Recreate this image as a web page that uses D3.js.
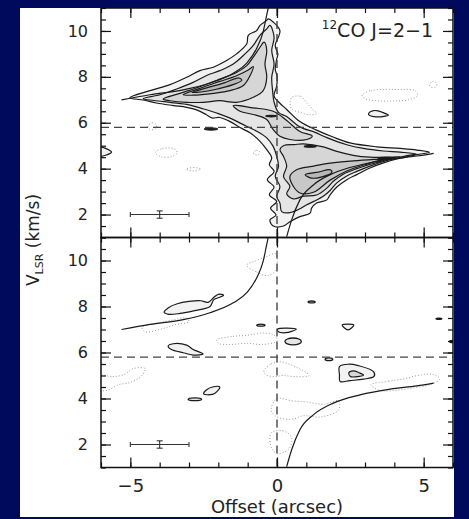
<!DOCTYPE html>
<html>
<head>
<meta charset="utf-8">
<script src="https://cdn.jsdelivr.net/npm/d3@7"></script>
<style>
  html, body { margin: 0; padding: 0; background: #000a5c; }
  svg { display: block; }
</style>
</head>
<body>
<script>
// ---------- axis ticks ----------
const offsetMajorTicks = [-5, 0, 5];
const offsetMinorTicks = [-6, -5, -4, -3, -2, -1, 0, 1, 2, 3, 4, 5, 6];
const velocityMajorTicks = [2, 4, 6, 8, 10];
const velocityMinorTicks = [1, 1.5, 2, 2.5, 3, 3.5, 4, 4.5, 5, 5.5, 6, 6.5, 7, 7.5, 8, 8.5, 9, 9.5, 10, 10.5, 11];

// systemic velocity and source position (dashed guides)
const systemicVelocity = 5.8;
const sourceOffset = 0;

// velocity resolution / beam bar: offset range and velocity half-width
const resolutionBar = { x0: -5, x1: -3, xc: -4, v: 2, dv: 0.16 };

// Keplerian rotation curves [offset, velocity]
const keplerBlue = [[0.33, 1.04], [0.50, 1.77], [0.78, 2.64], [1.24, 3.29], [1.92, 3.80], [2.83, 4.16], [3.86, 4.41], [4.77, 4.55], [5.34, 4.67]];
const keplerRed = [[-5.30, 7.00], [-4.33, 7.22], [-3.20, 7.43], [-2.29, 7.73], [-1.49, 8.16], [-1.03, 8.60], [-0.69, 9.25], [-0.47, 9.97], [-0.35, 10.70], [-0.30, 11.0]];

// ---------- 12CO J=2-1 channel contours (top panel) ----------
const coLevel1 = [[-5.02, 7.09], [-4.33, 7.40], [-3.65, 7.66], [-3.08, 7.98], [-2.63, 8.27], [-2.17, 8.42], [-1.72, 8.71], [-1.38, 9.00], [-1.03, 9.44], [-0.98, 9.81], [-0.69, 10.02], [-0.58, 10.24], [-0.35, 10.46], [-0.30, 10.53], [-0.13, 10.39], [0.10, 10.01], [-0.06, 9.35], [0.03, 8.99], [-0.01, 8.77], [-0.06, 8.33], [0.00, 8.04], [-0.01, 7.60], [-0.10, 7.16], [0.10, 6.85], [0.33, 6.58], [0.78, 6.05], [1.35, 5.68], [1.91, 5.38], [2.49, 5.12], [3.40, 4.95], [4.20, 4.88], [4.77, 4.81], [5.20, 4.71], [4.77, 4.61], [4.43, 4.51], [4.09, 4.42], [3.63, 4.25], [3.17, 4.03], [2.72, 3.74], [2.38, 3.52], [2.04, 3.20], [1.81, 2.86], [1.70, 2.64], [1.35, 2.50], [1.18, 2.28], [1.13, 2.06], [0.78, 1.91], [0.44, 1.69], [0.22, 1.50], [-0.13, 1.50], [-0.24, 1.77], [-0.03, 1.98], [-0.22, 2.28], [-0.01, 2.57], [-0.26, 2.86], [-0.10, 3.20], [-0.33, 3.52], [-0.10, 3.88], [-0.26, 4.17], [-0.18, 4.47], [-0.35, 4.83], [-0.58, 5.19], [-0.92, 5.56], [-1.26, 5.79], [-1.60, 6.05], [-1.95, 6.23], [-2.22, 6.21], [-2.42, 6.36], [-2.74, 6.56], [-3.08, 6.67], [-3.54, 6.75], [-4.11, 6.86], [-4.56, 6.99]];
const coLevel2 = [[-4.56, 7.05], [-3.99, 7.22], [-3.42, 7.47], [-2.86, 7.76], [-2.40, 8.06], [-1.95, 8.27], [-1.49, 8.56], [-1.09, 9.00], [-0.81, 9.37], [-0.58, 9.81], [-0.35, 10.09], [-0.24, 10.24], [-0.10, 9.73], [-0.18, 9.15], [-0.10, 8.56], [-0.18, 7.98], [-0.15, 7.40], [-0.10, 6.90], [0.05, 6.45], [0.33, 6.27], [0.78, 5.82], [1.30, 5.58], [1.70, 5.35], [2.38, 5.04], [2.95, 4.88], [3.63, 4.77], [4.20, 4.72], [4.75, 4.64], [4.43, 4.57], [4.09, 4.46], [3.63, 4.31], [3.17, 4.11], [2.72, 3.88], [2.38, 3.68], [2.04, 3.38], [1.81, 3.05], [1.60, 2.82], [1.30, 2.60], [1.00, 2.42], [0.78, 2.25], [0.44, 2.08], [0.16, 2.13], [0.10, 2.50], [-0.01, 2.79], [0.10, 3.22], [-0.06, 3.66], [0.05, 4.10], [-0.01, 4.54], [-0.13, 4.97], [-0.35, 5.34], [-0.69, 5.63], [-1.20, 5.95], [-1.60, 6.20], [-2.00, 6.40], [-2.50, 6.60], [-3.00, 6.78], [-3.60, 6.88], [-4.20, 6.97]];
const coLevel3West = [[-3.88, 7.03], [-3.31, 7.28], [-2.63, 7.57], [-1.95, 7.90], [-1.38, 8.19], [-1.03, 8.49], [-0.81, 8.86], [-0.58, 9.29], [-0.44, 9.51], [-0.35, 9.15], [-0.41, 8.56], [-0.35, 7.98], [-0.47, 7.40], [-0.81, 7.11], [-1.38, 6.89], [-1.95, 6.96], [-2.52, 6.89], [-3.08, 6.89], [-3.65, 6.96]];
const coLevel3Center = [[-1.49, 6.75], [-0.81, 6.65], [-0.13, 6.50], [0.33, 6.10], [0.78, 5.62], [1.20, 5.42], [1.01, 5.27], [0.44, 5.27], [0.10, 5.41], [-0.13, 5.70], [-0.35, 6.14], [-0.81, 6.36], [-1.26, 6.50]];
const coLevel3East = [[0.10, 4.83], [0.22, 5.00], [0.60, 5.05], [0.90, 5.08], [1.58, 4.95], [2.04, 4.75], [2.60, 4.58], [3.17, 4.50], [3.86, 4.50], [4.20, 4.52], [3.95, 4.47], [3.40, 4.27], [2.72, 4.00], [2.26, 3.76], [1.92, 3.45], [1.70, 3.15], [1.35, 2.85], [0.90, 2.80], [0.56, 2.68], [0.33, 2.90], [0.44, 3.22], [0.22, 3.66], [0.33, 4.10], [0.22, 4.54]];
const coLevel4West = [[-3.20, 7.22], [-2.63, 7.50], [-1.95, 7.80], [-1.38, 8.05], [-0.98, 8.30], [-0.81, 8.45], [-0.92, 8.05], [-1.15, 7.62], [-1.60, 7.40], [-2.17, 7.28], [-2.86, 7.20]];
const coLevel4East = [[0.44, 3.66], [0.67, 3.95], [1.20, 4.10], [1.58, 4.20], [2.49, 4.33], [3.29, 4.40], [3.80, 4.44], [3.50, 4.36], [3.06, 4.20], [2.38, 3.90], [1.81, 3.50], [1.24, 2.97], [0.78, 2.94], [0.56, 3.22]];
const coLevel5West = [[-2.90, 7.32], [-2.40, 7.52], [-1.80, 7.74], [-1.30, 7.95], [-1.20, 7.85], [-1.50, 7.66], [-2.10, 7.45], [-2.60, 7.34]];
const coLevel5East = [[0.96, 3.74], [1.40, 3.85], [1.81, 3.95], [1.87, 3.84], [1.47, 3.62], [1.13, 3.60]];
const coIslands = [
  [[3.12, 6.40], [3.25, 6.52], [3.45, 6.52], [3.60, 6.45], [3.80, 6.33], [3.60, 6.27], [3.30, 6.27], [3.15, 6.32]],
  [[-6.10, 4.95], [-5.64, 4.72], [-6.10, 4.55]]
];
// compact peaks, each {x: offset, v: velocity, rx, ry}
const coPeaks = [
  { x: -0.20, v: 6.29, rx: 0.18, ry: 0.035 },
  { x: 1.13, v: 4.97, rx: 0.20, ry: 0.035 },
  { x: 3.70, v: 4.45, rx: 0.25, ry: 0.035 },
  { x: -2.25, v: 5.73, rx: 0.22, ry: 0.045 }
];
// negative contours
const coNegative = [
  [[0.50, 7.10], [0.80, 7.15], [1.00, 6.90], [1.20, 6.60], [1.35, 6.40], [1.10, 6.35], [0.80, 6.45], [0.50, 6.60], [0.45, 6.85]],
  [[2.90, 7.20], [3.20, 7.40], [3.70, 7.45], [4.20, 7.45], [4.70, 7.40], [4.80, 7.20], [4.50, 7.00], [4.00, 6.95], [3.50, 6.95], [3.00, 7.05]],
  [[5.20, 7.65], [5.30, 7.80], [5.45, 7.72], [5.40, 7.56], [5.25, 7.55]],
  [[-4.40, 5.85], [-4.25, 6.00], [-4.10, 5.90], [-4.15, 5.72], [-4.35, 5.72]],
  [[-4.15, 4.70], [-3.90, 4.88], [-3.50, 4.86], [-3.40, 4.70], [-3.60, 4.52], [-3.95, 4.52]],
  [[-0.80, 4.70], [-0.70, 4.80], [-0.58, 4.72], [-0.65, 4.60], [-0.77, 4.62]],
  [[-3.10, 3.97], [-2.85, 4.05], [-2.60, 3.98], [-2.85, 3.90]]
];

// ---------- residual contours (bottom panel) ----------
const resPositive = [
  [[-3.85, 7.75], [-3.70, 7.95], [-3.40, 8.12], [-3.00, 8.22], [-2.60, 8.25], [-2.35, 8.18], [-2.15, 8.40], [-2.00, 8.53], [-1.82, 8.49], [-1.95, 8.40], [-2.15, 8.30], [-2.28, 8.00], [-2.50, 7.90], [-2.80, 7.82], [-3.30, 7.70], [-3.70, 7.66]],
  [[-3.71, 6.28], [-3.54, 6.38], [-3.08, 6.32], [-2.86, 6.13], [-2.52, 5.94], [-2.86, 5.89], [-3.20, 5.99], [-3.60, 6.13]],
  [[2.22, 7.20], [2.62, 7.20], [2.42, 6.98]],
  [[0.02, 7.02], [0.66, 7.02], [0.50, 6.92], [0.30, 6.86], [0.05, 6.90]],
  [[2.13, 5.39], [2.43, 5.49], [2.77, 5.43], [3.29, 5.17], [3.31, 4.96], [2.95, 4.84], [2.49, 4.78], [2.15, 4.74], [2.13, 5.03]],
  [[-2.50, 4.20], [-2.40, 4.38], [-2.20, 4.50], [-1.95, 4.50], [-2.05, 4.30], [-2.20, 4.18]]
];
const resPositiveInner = [
  [[2.45, 5.12], [2.60, 5.20], [2.80, 5.12], [2.95, 5.02], [2.75, 4.95], [2.50, 4.96]]
];
const resPeaks = [
  { x: -0.55, v: 7.19, rx: 0.14, ry: 0.04 },
  { x: 1.18, v: 8.20, rx: 0.12, ry: 0.04 },
  { x: 5.52, v: 7.47, rx: 0.10, ry: 0.025 },
  { x: 5.98, v: 6.48, rx: 0.10, ry: 0.05 },
  { x: 0.55, v: 6.48, rx: 0.28, ry: 0.15 },
  { x: 1.77, v: 5.71, rx: 0.13, ry: 0.06 },
  { x: -2.80, v: 3.97, rx: 0.23, ry: 0.06 }
];
const resNegative = [
  [[-1.03, 9.80], [-0.70, 9.50], [-0.30, 9.35], [-0.02, 9.60], [-0.05, 10.30], [-0.30, 10.20], [-0.70, 10.00]],
  [[-4.60, 7.10], [-4.20, 7.25], [-3.60, 7.40], [-3.10, 7.50], [-3.00, 7.35], [-3.50, 7.20], [-4.00, 7.00], [-4.50, 6.90]],
  [[-2.05, 6.55], [-1.50, 6.70], [-1.00, 6.75], [-0.50, 6.85], [-0.10, 6.75], [0.00, 6.50], [-0.50, 6.35], [-1.00, 6.40], [-1.60, 6.35], [-2.00, 6.40]],
  [[-6.10, 5.00], [-5.60, 4.95], [-5.20, 5.05], [-4.90, 5.30], [-4.50, 5.30], [-4.60, 5.00], [-5.00, 4.70], [-5.40, 4.60], [-5.80, 4.35], [-6.10, 4.40]],
  [[-0.45, 5.20], [-0.20, 5.50], [0.10, 5.60], [0.50, 5.45], [0.90, 5.20], [1.10, 5.00], [0.60, 4.95], [0.20, 5.00], [-0.10, 4.95], [-0.40, 5.05]],
  [[3.20, 4.60], [3.80, 4.75], [4.30, 4.85], [4.80, 5.00], [5.30, 5.05], [5.55, 4.85], [5.20, 4.60], [4.60, 4.45], [4.00, 4.35], [3.50, 4.35]],
  [[0.00, 4.00], [0.50, 3.90], [1.00, 3.85], [1.60, 3.75], [2.10, 3.90], [2.10, 3.50], [1.50, 3.20], [0.90, 3.25], [0.50, 3.10], [0.00, 3.20], [-0.20, 3.50]],
  [[-0.20, 2.50], [0.20, 2.60], [0.50, 2.30], [0.40, 1.80], [0.00, 1.60], [-0.20, 1.90]]
];

// ---------- layout ----------
const W = 469, H = 519;
const plotLeft = 101, plotRight = 453;
const topPanel = { y0: 8, y1: 237.5 };
const bottomPanel = { y0: 237.5, y1: 467.5 };

const x = d3.scaleLinear().domain([-6, 6]).range([plotLeft, plotRight]);
const yTop = d3.scaleLinear().domain([1, 11]).range([topPanel.y1, topPanel.y0]);
const yBot = d3.scaleLinear().domain([1, 11]).range([bottomPanel.y1, bottomPanel.y0]);

const svg = d3.select("body").append("svg")
  .attr("width", W).attr("height", H)
  .attr("font-family", "DejaVu Sans, sans-serif");

svg.append("rect").attr("width", W).attr("height", H).attr("fill", "#000a5c");
svg.append("rect").attr("x", 20).attr("y", 8).attr("width", 434).attr("height", 509).attr("fill", "#ffffff");

const fills = ["#f2f2f2", "#e5e5e5", "#d6d6d6", "#c8c8c8", "#b8b8b8"];
const lineColor = "#1a1a1a";

function drawPanel(id, y, panel, layers, peaks, negatives, solidPeaks) {
  const clipId = "clip-" + id;
  svg.append("clipPath").attr("id", clipId)
    .append("rect")
    .attr("x", plotLeft).attr("y", panel.y0)
    .attr("width", plotRight - plotLeft).attr("height", panel.y1 - panel.y0);

  const g = svg.append("g").attr("clip-path", `url(#${clipId})`);

  const shape = d3.line()
    .x(d => x(d[0])).y(d => y(d[1]))
    .curve(d3.curveCatmullRomClosed.alpha(0.5));

  // negative (dotted) contours
  g.selectAll("path.neg").data(negatives).join("path")
    .attr("class", "neg")
    .attr("d", shape)
    .attr("fill", "none")
    .attr("stroke", "#9c9c9c")
    .attr("stroke-width", 1)
    .attr("stroke-dasharray", "1,2");

  // positive filled contours, low to high
  layers.forEach(layer => {
    g.append("g").selectAll("path").data(layer.polys).join("path")
      .attr("d", shape)
      .attr("fill", fills[layer.level])
      .attr("stroke", lineColor)
      .attr("stroke-width", 1.2)
      .attr("stroke-linejoin", "round");
  });

  // compact contours
  g.append("g").selectAll("ellipse").data(peaks).join("ellipse")
    .attr("cx", d => x(d.x))
    .attr("cy", d => y(d.v))
    .attr("rx", d => x(d.x + d.rx) - x(d.x))
    .attr("ry", d => y(d.v - d.ry) - y(d.v))
    .attr("fill", solidPeaks ? lineColor : fills[1])
    .attr("stroke", lineColor)
    .attr("stroke-width", 1.3);

  // Keplerian curves
  const curve = d3.line().x(d => x(d[0])).y(d => y(d[1])).curve(d3.curveMonotoneX);
  [keplerBlue, keplerRed].forEach(k => {
    g.append("path").attr("d", curve(k))
      .attr("fill", "none").attr("stroke", lineColor).attr("stroke-width", 1.2);
  });

  // dashed guides: systemic velocity and source position
  g.append("line")
    .attr("x1", plotLeft).attr("x2", plotRight)
    .attr("y1", y(systemicVelocity)).attr("y2", y(systemicVelocity))
    .attr("stroke", "#444").attr("stroke-width", 1.4).attr("stroke-dasharray", "8,5");
  g.append("line")
    .attr("x1", x(sourceOffset)).attr("x2", x(sourceOffset))
    .attr("y1", panel.y0).attr("y2", panel.y1)
    .attr("stroke", "#444").attr("stroke-width", 1.4).attr("stroke-dasharray", "8,5");

  // resolution bar
  const rb = svg.append("g").attr("stroke", "#333").attr("stroke-width", 1.1);
  rb.append("line").attr("x1", x(resolutionBar.x0)).attr("x2", x(resolutionBar.x1))
    .attr("y1", y(resolutionBar.v)).attr("y2", y(resolutionBar.v));
  [resolutionBar.x0, resolutionBar.x1].forEach(xx => {
    rb.append("line").attr("x1", x(xx)).attr("x2", x(xx))
      .attr("y1", y(resolutionBar.v) - 2.5).attr("y2", y(resolutionBar.v) + 2.5);
  });
  rb.append("line").attr("x1", x(resolutionBar.xc)).attr("x2", x(resolutionBar.xc))
    .attr("y1", y(resolutionBar.v + resolutionBar.dv)).attr("y2", y(resolutionBar.v - resolutionBar.dv));
  [resolutionBar.v + resolutionBar.dv, resolutionBar.v - resolutionBar.dv].forEach(vv => {
    rb.append("line").attr("x1", x(resolutionBar.xc) - 3).attr("x2", x(resolutionBar.xc) + 3)
      .attr("y1", y(vv)).attr("y2", y(vv));
  });

  // axes with inward ticks on all four sides
  const axes = svg.append("g").attr("class", "axes");
  const styleAxis = sel => {
    sel.select(".domain").remove();
    sel.selectAll(".tick line").attr("stroke", "#111").attr("stroke-width", 1.2);
    sel.selectAll("text").attr("fill", "#222").attr("font-size", 16).attr("font-family", "DejaVu Sans, sans-serif");
  };
  axes.append("g").attr("transform", `translate(${plotLeft},0)`)
    .call(d3.axisLeft(y).tickValues(velocityMinorTicks).tickSize(-5).tickFormat("")).call(styleAxis);
  axes.append("g").attr("transform", `translate(${plotLeft},0)`)
    .call(d3.axisLeft(y).tickValues(velocityMajorTicks).tickSize(-10).tickPadding(13).tickFormat(d3.format("d"))).call(styleAxis);
  axes.append("g").attr("transform", `translate(${plotRight},0)`)
    .call(d3.axisRight(y).tickValues(velocityMinorTicks).tickSize(-5).tickFormat("")).call(styleAxis);
  axes.append("g").attr("transform", `translate(${plotRight},0)`)
    .call(d3.axisRight(y).tickValues(velocityMajorTicks).tickSize(-10).tickFormat("")).call(styleAxis);
  axes.append("g").attr("transform", `translate(0,${panel.y0})`)
    .call(d3.axisTop(x).tickValues(offsetMinorTicks).tickSize(-5).tickFormat("")).call(styleAxis);
  axes.append("g").attr("transform", `translate(0,${panel.y0})`)
    .call(d3.axisTop(x).tickValues(offsetMajorTicks).tickSize(-10).tickFormat("")).call(styleAxis);
  axes.append("g").attr("transform", `translate(0,${panel.y1})`)
    .call(d3.axisBottom(x).tickValues(offsetMinorTicks).tickSize(-5).tickFormat("")).call(styleAxis);
  const bottomMajor = d3.axisBottom(x).tickValues(offsetMajorTicks).tickSize(-10);
  if (id === "bottom") {
    bottomMajor.tickPadding(12).tickFormat(d3.format("d"));
  } else {
    bottomMajor.tickFormat("");
  }
  const bm = axes.append("g").attr("transform", `translate(0,${panel.y1})`).call(bottomMajor).call(styleAxis);
  bm.selectAll("text").attr("font-size", 18);

  // frame
  svg.append("rect")
    .attr("x", plotLeft).attr("y", panel.y0)
    .attr("width", plotRight - plotLeft).attr("height", panel.y1 - panel.y0)
    .attr("fill", "none").attr("stroke", "#111").attr("stroke-width", 1.5);
}

drawPanel("top", yTop, topPanel, [
  { level: 0, polys: [coLevel1].concat(coIslands) },
  { level: 1, polys: [coLevel2] },
  { level: 2, polys: [coLevel3West, coLevel3Center, coLevel3East] },
  { level: 3, polys: [coLevel4West, coLevel4East] },
  { level: 4, polys: [coLevel5West, coLevel5East] }
], coPeaks, coNegative, true);

drawPanel("bottom", yBot, bottomPanel, [
  { level: 0, polys: resPositive },
  { level: 2, polys: resPositiveInner }
], resPeaks, resNegative, false);

// line label
const title = svg.append("text")
  .attr("x", 433).attr("y", 37)
  .attr("text-anchor", "end")
  .attr("fill", "#222");
title.append("tspan").attr("font-size", 12).attr("dy", -8).text("12");
title.append("tspan").attr("font-size", 19).attr("dy", 8).text("CO J=2\u22121");

// axis titles
svg.append("text")
  .attr("x", (plotLeft + plotRight) / 2).attr("y", 513)
  .attr("text-anchor", "middle")
  .attr("font-size", 18)
  .attr("fill", "#222")
  .text("Offset (arcsec)");

const ylab = svg.append("text")
  .attr("transform", "translate(39,240) rotate(-90)")
  .attr("text-anchor", "middle")
  .attr("font-size", 17)
  .attr("fill", "#222");
ylab.append("tspan").text("V");
ylab.append("tspan").attr("font-size", 11).attr("dy", 4).text("LSR");
ylab.append("tspan").attr("dy", -4).text(" (km/s)");
</script>
</body>
</html>
